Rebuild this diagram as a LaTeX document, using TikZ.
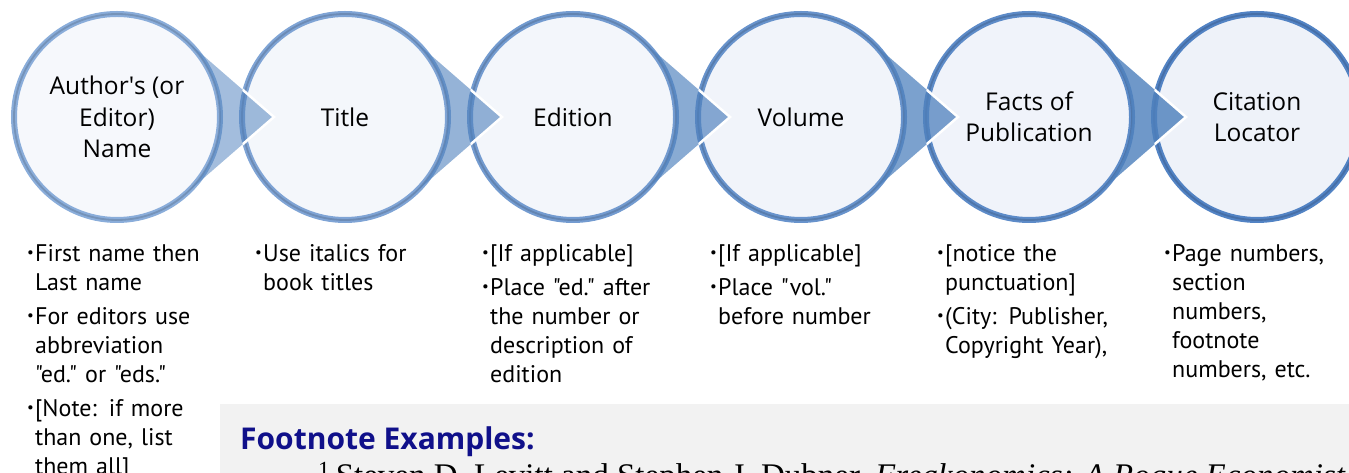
\documentclass[tikz,border=0pt]{standalone}
\usepackage{fontspec}
\setmainfont{Open Sans}
\newfontfamily\bulfont{PT Sans}
\newfontfamily\notefont{Liberation Serif}
\usetikzlibrary{positioning,calc}

\definecolor{ring1}{HTML}{8AADDA}
\definecolor{ring2}{HTML}{7FA4D5}
\definecolor{ring3}{HTML}{739BD0}
\definecolor{ring4}{HTML}{6893CC}
\definecolor{ring5}{HTML}{5D8BC8}
\definecolor{ring6}{HTML}{5283C4}
\definecolor{fill1}{HTML}{F6F8FC}
\definecolor{fill2}{HTML}{F4F7FB}
\definecolor{fill3}{HTML}{F3F6FB}
\definecolor{fill4}{HTML}{F1F4FA}
\definecolor{fill5}{HTML}{F0F3FA}
\definecolor{fill6}{HTML}{EEF2F9}
\definecolor{ptrblue}{HTML}{4F81BD}
\definecolor{panelgray}{HTML}{F2F2F2}
\definecolor{navytitle}{HTML}{10108A}

\newcommand{\bitem}[1]{\noindent\llap{\makebox[8pt][l]{\raisebox{0.18em}{\fontsize{15}{15}\selectfont\textbullet}}}#1}

\begin{document}
\begin{tikzpicture}[
        x=1pt, y=1pt,
        stage/.style={circle, minimum size=206pt, inner sep=0pt, outer sep=0pt,
            line width=6pt, fill=fill#1, draw=ring#1,
            postaction={draw=ring#1!85!black, line width=1.8pt},
            align=center, text=black, font=\fontsize{24.5}{31.5}\selectfont},
        pointer/.style={fill=ptrblue, fill opacity=#1},
        edge/.style={draw=white, line width=2.5pt, line join=miter},
        notes/.style={anchor=base west, inner sep=0pt, text width=205pt,
            font=\bulfont\fontsize{24}{29}\selectfont},
        panel/.style={fill=panelgray, inner sep=0pt, outer sep=0pt}
    ]
        \useasboundingbox (0,0) rectangle (1349,473);
        \clip (0,0) rectangle (1349,473);

        % Stages
        \node[stage=1] (c1) at (117,356) {Author\textquotesingle s (or\\Editor)\\Name};
        \node[stage=2, right=22pt of c1] (c2) {Title};
        \node[stage=3, right=22pt of c2] (c3) {Edition};
        \node[stage=4, right=22pt of c3] (c4) {Volume};
        \node[stage=5, right=22pt of c4] (c5) {Facts of\\Publication};
        \node[stage=6, right=22pt of c5] (c6) {Citation\\Locator};

        % Pointers
        \fill[pointer=0.52] (c1.49) -- ([xshift=54pt]c1.east) -- (c1.-49) arc[start angle=-49, end angle=49, radius=103pt] -- cycle;
        \fill[pointer=0.60] (c2.49) -- ([xshift=54pt]c2.east) -- (c2.-49) arc[start angle=-49, end angle=49, radius=103pt] -- cycle;
        \fill[pointer=0.67] (c3.49) -- ([xshift=54pt]c3.east) -- (c3.-49) arc[start angle=-49, end angle=49, radius=103pt] -- cycle;
        \fill[pointer=0.75] (c4.49) -- ([xshift=54pt]c4.east) -- (c4.-49) arc[start angle=-49, end angle=49, radius=103pt] -- cycle;
        \fill[pointer=0.82] (c5.49) -- ([xshift=54pt]c5.east) -- (c5.-49) arc[start angle=-49, end angle=49, radius=103pt] -- cycle;

        % White rims where a pointer enters the next stage
        \begin{scope}
            \clip (c2.center) circle[radius=106pt];
            \draw[edge] (c1.49) -- ([xshift=54pt]c1.east) -- (c1.-49);
        \end{scope}
        \begin{scope}
            \clip (c3.center) circle[radius=106pt];
            \draw[edge] (c2.49) -- ([xshift=54pt]c2.east) -- (c2.-49);
        \end{scope}
        \begin{scope}
            \clip (c4.center) circle[radius=106pt];
            \draw[edge] (c3.49) -- ([xshift=54pt]c3.east) -- (c3.-49);
        \end{scope}
        \begin{scope}
            \clip (c5.center) circle[radius=106pt];
            \draw[edge] (c4.49) -- ([xshift=54pt]c4.east) -- (c4.-49);
        \end{scope}
        \begin{scope}
            \clip (c6.center) circle[radius=106pt];
            \draw[edge] (c5.49) -- ([xshift=54pt]c5.east) -- (c5.-49);
        \end{scope}

        % Notes
        \node[notes] (n1) at (35,211) {\bitem{First name then\\Last name}\par\vspace{5pt}
            \bitem{For editors use\\abbreviation\\"ed." or "eds."}\par\vspace{5pt}
            \bitem{[Note: if more\\than one, list\\them all]}};
        \node[notes] (n2) at (263,211) {\bitem{Use italics for\\book titles}};
        \node[notes] (n3) at (490,211) {\bitem{[If applicable]}\par\vspace{5pt}
            \bitem{Place "ed." after\\the number or\\description of\\edition}};
        \node[notes] (n4) at (718,211) {\bitem{[If applicable]}\par\vspace{5pt}
            \bitem{Place "vol."\\before number}};
        \node[notes] (n5) at (945,211) {\bitem{[notice the\\punctuation]}\par\vspace{5pt}
            \bitem{(City: Publisher,\\Copyright Year),}};
        \node[notes] (n6) at (1172,211) {\bitem{Page numbers,\\section\\numbers,\\footnote\\numbers, etc.}};

        % Footnote panel
        \node[panel, anchor=south west, minimum width=1129pt, minimum height=69pt] (panel) at (220,0) {};
        \node[anchor=base west, inner sep=0pt, text=navytitle, font=\bfseries\fontsize{30}{35}\selectfont] (title) at (240,23) {Footnote Examples:};
        \node[anchor=base west, inner sep=0pt, font=\notefont\fontsize{33}{38}\selectfont] (cite) at (318,-14)
            {\textsuperscript{1}\,Steven D. Levitt and Stephen J. Dubner, \textit{Freakonomics: A Rogue Economist}};
    \end{tikzpicture}
\end{document}
